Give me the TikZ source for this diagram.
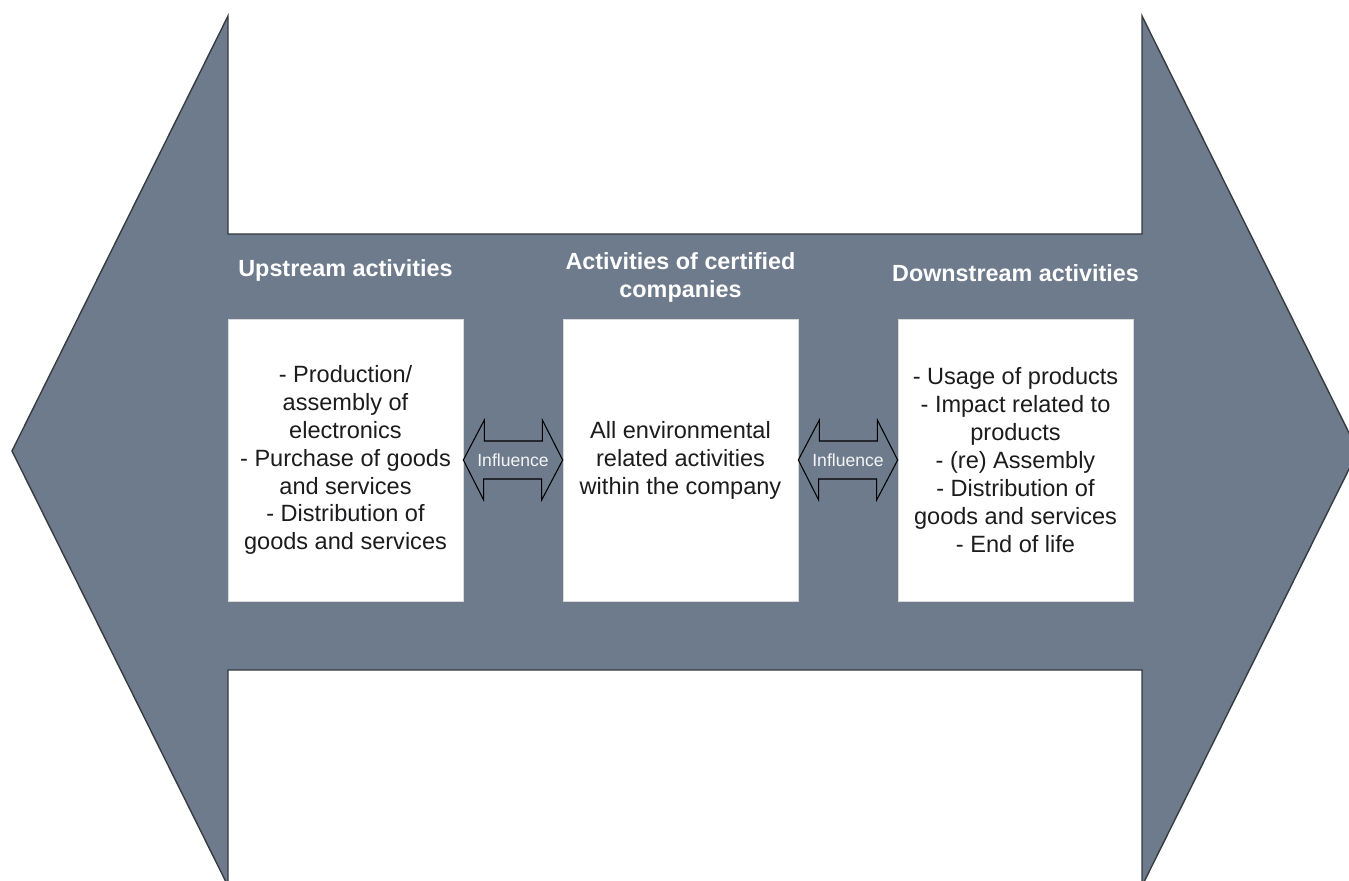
\documentclass[tikz,border=0pt]{standalone}
\usepackage{fontspec}
\setmainfont{Liberation Sans}
\definecolor{slate}{RGB}{110,123,140}
\definecolor{edge}{RGB}{55,60,66}
\definecolor{ink}{RGB}{28,28,30}

\begin{document}
\begin{tikzpicture}[x=0.02cm,y=-0.02cm,
    box/.style={fill=white,draw=white!85!black,line width=0.4pt,minimum width=4.7cm,
      minimum height=5.64cm,align=center,inner sep=0pt,text=ink,
      font=\fontsize{13.4}{15.9}\selectfont},
    toptext/.style={text=white,align=center,font=\bfseries\fontsize{13.3}{15.9}\selectfont},
    infl/.style={fill=slate,draw=black,line width=0.6pt,line join=miter},
    inflabel/.style={text=white!92!slate,inner sep=0pt,font=\fontsize{10}{12}\selectfont}]
  \useasboundingbox (0,0) rectangle (1349,881);
  \clip (0,0) rectangle (1349,881);
  % big double arrow
  \draw[fill=slate,draw=edge,line width=0.8pt]
    (12,451) -- (228,16) -- (228,234) -- (1142,234) -- (1142,16) -- (1358,451)
    -- (1142,886) -- (1142,670) -- (228,670) -- (228,886) -- cycle;
  \draw
    (345.5,460) node[box] (up){- Production/\\assembly of\\electronics\\- Purchase of goods\\and services\\- Distribution of\\goods and services}
    (680.5,460) node[box] (mid){All environmental\\related activities\\within the company}
    (1015.5,460) node[box] (down){- Usage of products\\- Impact related to\\products\\- (re) Assembly\\- Distribution of\\goods and services\\- End of life};
  \draw
    (345.5,270) node[toptext] (uptitle){Upstream activities}
    (680.5,277) node[toptext] (midtitle){Activities of certified\\companies}
    (1015.5,273) node[toptext] (downtitle){Downstream activities};
  % influence arrows
  \draw[infl] (up.east) -- ++(21,-40) -- ++(0,21) -- ++(58,0) -- ++(0,-21) -- (mid.west)
    -- ++(-21,40) -- ++(0,-21) -- ++(-58,0) -- ++(0,21) -- cycle;
  \path (up.east) -- node[inflabel] (infleft){Influence} (mid.west);
  \draw[infl] (mid.east) -- ++(21,-40) -- ++(0,21) -- ++(58,0) -- ++(0,-21) -- (down.west)
    -- ++(-21,40) -- ++(0,-21) -- ++(-58,0) -- ++(0,21) -- cycle;
  \path (mid.east) -- node[inflabel] (inflright){Influence} (down.west);
\end{tikzpicture}
\end{document}
